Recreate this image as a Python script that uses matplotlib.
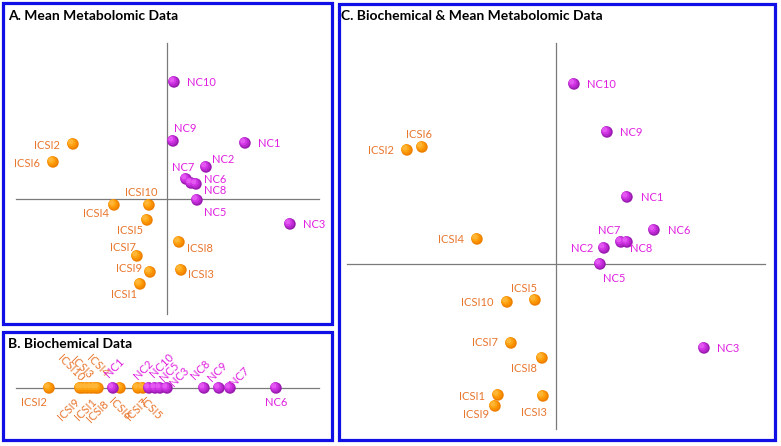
import matplotlib
matplotlib.use("Agg")
import matplotlib.pyplot as plt
from matplotlib.patches import Rectangle
from matplotlib.transforms import offset_copy

plt.rcParams['font.family'] = ['Lato', 'DejaVu Sans']

W, H = 781, 446
DPI = 100

# ---------------- data ----------------
# Panel A: Mean Metabolomic Data (score coordinates)
a_nc_names = ["NC10", "NC9", "NC1", "NC2", "NC7", "NC6", "NC8", "NC5", "NC3"]
a_nc_x = [0.07, 0.06, 0.78, 0.39, 0.19, 0.24, 0.29, 0.30, 1.23]
a_nc_y = [1.17, 0.58, 0.56, 0.32, 0.20, 0.16, 0.15, -0.01, -0.25]
a_icsi_names = ["ICSI2", "ICSI6", "ICSI4", "ICSI10", "ICSI5", "ICSI8", "ICSI7", "ICSI9", "ICSI3", "ICSI1"]
a_icsi_x = [-0.94, -1.14, -0.53, -0.18, -0.20, 0.12, -0.30, -0.17, 0.14, -0.27]
a_icsi_y = [0.55, 0.37, -0.06, -0.06, -0.21, -0.43, -0.57, -0.73, -0.71, -0.85]

# Panel B: Biochemical Data (one dimension)
b_nc_names = ["NC1", "NC2", "NC10", "NC5", "NC3", "NC8", "NC9", "NC7", "NC6"]
b_nc_x = [-0.54, -0.18, -0.12, -0.07, 0.00, 0.37, 0.52, 0.63, 1.09]
b_icsi_names = ["ICSI2", "ICSI9", "ICSI10", "ICSI1", "ICSI3", "ICSI8", "ICSI4", "ICSI6", "ICSI7", "ICSI5"]
b_icsi_x = [-1.18, -0.87, -0.84, -0.80, -0.76, -0.72, -0.69, -0.47, -0.29, -0.24]

# Panel C: Biochemical & Mean Metabolomic Data
c_nc_names = ["NC10", "NC9", "NC1", "NC6", "NC7", "NC8", "NC2", "NC5", "NC3"]
c_nc_x = [0.18, 0.51, 0.71, 0.98, 0.65, 0.71, 0.48, 0.44, 1.48]
c_nc_y = [1.80, 1.32, 0.67, 0.34, 0.22, 0.22, 0.16, 0.00, -0.84]
c_icsi_names = ["ICSI6", "ICSI2", "ICSI4", "ICSI5", "ICSI10", "ICSI7", "ICSI8", "ICSI1", "ICSI3", "ICSI9"]
c_icsi_x = [-1.34, -1.49, -0.79, -0.21, -0.49, -0.45, -0.14, -0.58, -0.13, -0.61]
c_icsi_y = [1.17, 1.14, 0.25, -0.36, -0.38, -0.79, -0.94, -1.31, -1.32, -1.42]

titles = ["A. Mean Metabolomic Data", "B. Biochemical Data", "C. Biochemical & Mean Metabolomic Data"]

# ---------------- styles ----------------
ORANGE_SHADES = ["#EE8000", "#FA9200", "#FFA414", "#FFB636"]
MAGENTA_SHADES = ["#9A1CB0", "#BA28D0", "#D236E6", "#E458F2"]
ORANGE_TXT = "#E8762D"
MAGENTA_TXT = "#E020E0"
BLUE = "#1010E6"
AXIS_GRAY = "#7A7A7A"
LABEL_FS = 8.0
MS = 68

# label placement (dx, dy in px, ha, va, rotation)
a_lab = {
    "NC10": (13, 0, "left", "center", 0), "NC9": (1, -13, "left", "center", 0),
    "NC1": (13, 0, "left", "center", 0), "NC2": (6, -8, "left", "center", 0),
    "NC7": (-3, -12, "center", "center", 0), "NC6": (13, -4, "left", "center", 0),
    "NC8": (8, 6, "left", "center", 0), "NC5": (7, 12, "left", "center", 0),
    "NC3": (13, 0, "left", "center", 0),
    "ICSI2": (-13, 1, "right", "center", 0), "ICSI6": (-13, 1, "right", "center", 0),
    "ICSI4": (-5, 8, "right", "center", 0), "ICSI10": (-8, -13, "center", "center", 0),
    "ICSI5": (-4, 10, "right", "center", 0), "ICSI8": (8, 6, "left", "center", 0),
    "ICSI7": (-1, -9, "right", "center", 0), "ICSI9": (-8, -3, "right", "center", 0),
    "ICSI3": (7, 5, "left", "center", 0), "ICSI1": (-3, 11, "right", "center", 0),
}
b_lab = {
    "ICSI2": (-2, 14, "right", "center", 0), "NC6": (0, 15, "center", "center", 0),
    "ICSI10": (-4, -5, "right", "bottom", -45), "ICSI3": (-4, -7, "right", "bottom", -45),
    "ICSI4": (5, -9, "right", "bottom", -45),
    "ICSI9": (-6, 8, "right", "top", 45), "ICSI1": (4, 8, "right", "top", 45),
    "ICSI8": (8, 10, "right", "top", 45), "ICSI7": (4, 8, "right", "top", 45),
    "ICSI6": (-6, 8, "left", "top", -45), "ICSI5": (2, 8, "left", "top", -45),
    "NC1": (-3, -9, "left", "bottom", 45), "NC2": (-10, -7, "left", "bottom", 45),
    "NC10": (0, -9, "left", "bottom", 45), "NC5": (5, -5, "left", "bottom", 45),
    "NC3": (8, 0, "left", "bottom", 45), "NC8": (-8, -7, "left", "bottom", 45),
    "NC9": (-6, -5, "left", "bottom", 45), "NC7": (5, 0, "left", "bottom", 45),
}
c_lab = {
    "NC10": (13, 0, "left", "center", 0), "NC9": (13, 1, "left", "center", 0),
    "NC1": (14, 1, "left", "center", 0), "NC6": (14, 1, "left", "center", 0),
    "NC7": (-12, -11, "center", "center", 0), "NC8": (3, 7, "left", "center", 0),
    "NC2": (-11, 1, "right", "center", 0), "NC5": (3, 14, "left", "center", 0),
    "NC3": (13, 1, "left", "center", 0),
    "ICSI6": (-3, -13, "center", "center", 0), "ICSI2": (-13, 1, "right", "center", 0),
    "ICSI4": (-13, 1, "right", "center", 0), "ICSI5": (-11, -12, "center", "center", 0),
    "ICSI10": (-13, 1, "right", "center", 0), "ICSI7": (-13, 0, "right", "center", 0),
    "ICSI8": (-18, 10, "center", "center", 0), "ICSI1": (-13, 1, "right", "center", 0),
    "ICSI3": (-9, 16, "center", "center", 0), "ICSI9": (-19, 8, "center", "center", 0),
}

fig = plt.figure(figsize=(W / DPI, H / DPI), dpi=DPI)
fig.patch.set_facecolor("white")


def make_ax(x0, y0, x1, y1, xlim, ylim):
    ax = fig.add_axes([x0 / W, 1 - y1 / H, (x1 - x0) / W, (y1 - y0) / H])
    ax.set_xlim(*xlim)
    ax.set_ylim(*ylim)
    ax.set_xticks([])
    ax.set_yticks([])
    for s in ax.spines.values():
        s.set_visible(False)
    ax.patch.set_alpha(0)
    ax.add_patch(Rectangle((0, 0), 1, 1, transform=ax.transAxes, fill=False,
                           edgecolor=BLUE, lw=2.3, clip_on=False, zorder=10))
    return ax


def label(ax, name, x, y, spec, color):
    dx, dy, ha, va, rot = spec
    ax.annotate(name, (x, y), xytext=(dx * 0.72, -dy * 0.72), textcoords="offset points",
                ha=ha, va=va, rotation=rot, rotation_mode="anchor",
                fontsize=LABEL_FS, color=color, zorder=6)


def points(ax, xs, ys, shades, z):
    # pseudo-3D sphere: darker base, lighter highlight toward upper-left
    ax.scatter(xs, ys, s=MS, c=shades[0], edgecolors="none", zorder=z)
    fr = [0.72, 0.45, 0.2]
    off = [0.8, 1.6, 2.2]
    for shade, f, o in zip(shades[1:], fr, off):
        tr = offset_copy(ax.transData, fig=fig, x=-o, y=o, units="dots")
        ax.scatter(xs, ys, s=MS * f, c=shade, edgecolors="none", zorder=z, transform=tr)


# ---- Panel A ----
axA = make_ax(2.5, 2.5, 331.5, 323.5, (-1.645, 1.645), (-1.245, 1.965))
axA.plot([-1.51, 1.52], [0, 0], color=AXIS_GRAY, lw=0.9, zorder=1)
axA.plot([0, 0], [-1.15, 1.56], color=AXIS_GRAY, lw=0.9, zorder=1)
points(axA, a_icsi_x, a_icsi_y, ORANGE_SHADES, 3)
points(axA, a_nc_x, a_nc_y, MAGENTA_SHADES, 4)
for n, x, y in zip(a_icsi_names, a_icsi_x, a_icsi_y):
    label(axA, n, x, y, a_lab[n], ORANGE_TXT)
for n, x, y in zip(a_nc_names, a_nc_x, a_nc_y):
    label(axA, n, x, y, a_lab[n], MAGENTA_TXT)

# ---- Panel B ----
axB = make_ax(2.5, 331.5, 331.5, 439.5, (-1.645, 1.645), (-0.515, 0.565))
axB.plot([-1.51, 1.52], [0, 0], color=AXIS_GRAY, lw=0.9, zorder=1)
points(axB, b_icsi_x, [0] * len(b_icsi_x), ORANGE_SHADES, 3)
points(axB, b_nc_x, [0] * len(b_nc_x), MAGENTA_SHADES, 4)
for n, x in zip(b_icsi_names, b_icsi_x):
    label(axB, n, x, 0, b_lab[n], ORANGE_TXT)
for n, x in zip(b_nc_names, b_nc_x):
    label(axB, n, x, 0, b_lab[n], MAGENTA_TXT)

# ---- Panel C ----
axC = make_ax(338.5, 4, 775, 440, (-2.175, 2.19), (-1.76, 2.60))
axC.plot([-2.09, 2.09], [0, 0], color=AXIS_GRAY, lw=0.9, zorder=1)
axC.plot([0, 0], [-1.65, 2.21], color=AXIS_GRAY, lw=0.9, zorder=1)
points(axC, c_icsi_x, c_icsi_y, ORANGE_SHADES, 3)
points(axC, c_nc_x, c_nc_y, MAGENTA_SHADES, 4)
for n, x, y in zip(c_icsi_names, c_icsi_x, c_icsi_y):
    label(axC, n, x, y, c_lab[n], ORANGE_TXT)
for n, x, y in zip(c_nc_names, c_nc_x, c_nc_y):
    label(axC, n, x, y, c_lab[n], MAGENTA_TXT)

# ---- Titles ----
for t, (px, py) in zip(titles, [(8, 16), (8, 344), (341, 16)]):
    fig.text(px / W, 1 - py / H, t, ha="left", va="center", fontsize=10,
             fontweight="bold", color="black")

fig.savefig("out.png", dpi=DPI)
